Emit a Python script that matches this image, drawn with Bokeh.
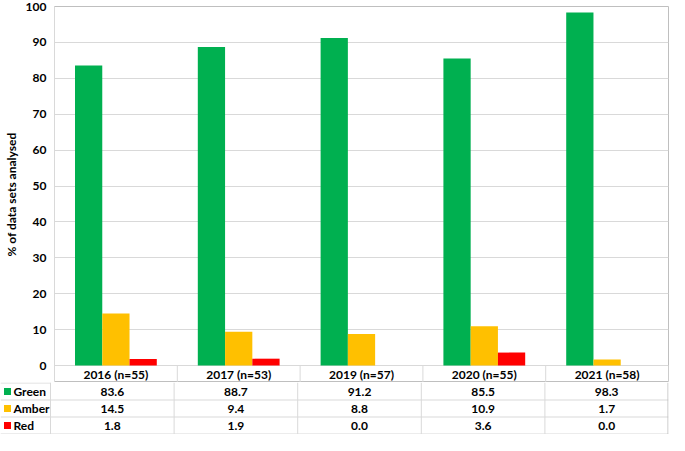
from bokeh.plotting import figure
from bokeh.models import Range1d, FactorRange, FixedTicker, ColumnDataSource
from bokeh.transform import dodge
from bokeh.core.properties import value
from bokeh.embed import file_html
from bokeh.resources import INLINE

# ---- data ----
categories = ["2016 (n=55)", "2017 (n=53)", "2019 (n=57)", "2020 (n=55)", "2021 (n=58)"]
series_names = ["Green", "Amber", "Red"]
green = [83.6, 88.7, 91.2, 85.5, 98.3]
amber = [14.5, 9.4, 8.8, 10.9, 1.7]
red = [1.8, 1.9, 0.0, 3.6, 0.0]
series_colors = ["#00B050", "#FFC000", "#FF0000"]
y_ticks = list(range(0, 101, 10))

# ---- layout constants ----
W = 669
LEFT = 50
RIGHT = 1
TOP = 6
PLOT_H = 359          # pixels for 0..100
ROW_H = 17
FONT = value("Lato")
FS = "12px"
GRID = "#d9d9d9"
BORDER = "#bfbfbf"

ncat = len(categories)
ppu = (W - LEFT - RIGHT) / ncat
x0 = -LEFT / ppu
bar_w = 0.222
hdr = ROW_H * 100.0 / PLOT_H   # header row height in data units

# ---- chart (bars + header row of the data table) ----
src = ColumnDataSource(dict(cat=categories, Green=green, Amber=amber, Red=red,
                            hb=[-hdr] * ncat, ht=[0] * ncat, hm=[-hdr / 2] * ncat))
p = figure(x_range=FactorRange(*categories, range_padding=0), y_range=Range1d(-hdr, 100),
           width=W, height=TOP + PLOT_H + ROW_H, output_backend="svg", toolbar_location=None,
           min_border_left=LEFT, min_border_right=RIGHT, min_border_top=TOP, min_border_bottom=0)
for j, (name, col) in enumerate(zip(series_names, series_colors)):
    p.vbar(x=dodge("cat", (j - 1) * bar_w, range=p.x_range), top=name, width=bar_w,
           source=src, fill_color=col, line_color=None)
p.xaxis.visible = False
p.xgrid.visible = False
p.ygrid.grid_line_color = GRID
p.yaxis.ticker = FixedTicker(ticks=y_ticks)
p.yaxis.axis_line_color = GRID
p.yaxis.major_tick_line_color = None
p.yaxis.minor_tick_line_color = None
p.yaxis.major_tick_out = 0
p.yaxis.major_label_standoff = 8
p.yaxis.major_label_text_font = "Lato"
p.yaxis.major_label_text_font_style = "bold"
p.yaxis.major_label_text_font_size = FS
p.yaxis.major_label_text_color = "#000000"
p.yaxis.axis_label = "% of data sets analysed"
p.yaxis.axis_label_text_font = "Lato"
p.yaxis.axis_label_text_font_style = "bold"
p.yaxis.axis_label_text_font_size = FS
p.yaxis.axis_label_text_color = "#000000"
p.yaxis.axis_label_standoff = 4
p.outline_line_color = BORDER

# header row: separators and category labels
p.segment(x0=dodge("cat", 0.5, range=p.x_range), y0="hb",
          x1=dodge("cat", 0.5, range=p.x_range), y1="ht",
          source=src, line_color=GRID, line_width=1)
p.text(x="cat", y="hm", text="cat", source=src, text_font=FONT,
       text_font_style="bold", text_font_size=FS, text_align="center",
       text_baseline="middle", text_color="#000000")

# ---- data rows of the table (separate root, full-width frame) ----
pad = 0.5 / ROW_H
t = figure(x_range=Range1d(x0, ncat), y_range=Range1d(-pad, 3 + pad),
           width=W, height=3 * ROW_H + 1, output_backend="svg", toolbar_location=None,
           x_axis_type=None, y_axis_type=None,
           min_border_left=0, min_border_right=RIGHT, min_border_top=0, min_border_bottom=0)
t.xgrid.visible = False
t.ygrid.visible = False
t.outline_line_color = None

t.segment(x0=[x0], y0=[3], x1=[0], y1=[3], line_color=GRID, line_width=1)
hy = [2, 1, 0]
t.segment(x0=[x0] * len(hy), y0=hy, x1=[ncat] * len(hy), y1=hy, line_color=GRID, line_width=1)
vx = list(range(ncat))
t.segment(x0=vx, y0=[0] * len(vx), x1=vx, y1=[3 + pad] * len(vx), line_color=GRID, line_width=1)
xr = ncat - 0.5 / ppu
t.segment(x0=[xr], y0=[0], x1=[xr], y1=[3 + pad], line_color=BORDER, line_width=1)

centers = [i + 0.5 for i in range(ncat)]
for j, (name, vals, col) in enumerate(zip(series_names, [green, amber, red], series_colors)):
    yy = 2.5 - j
    t.text(x=centers, y=[yy] * ncat, text=[f"{v:.1f}" for v in vals], text_font=FONT,
           text_font_style="bold", text_font_size=FS, text_align="center",
           text_baseline="middle", text_color="#000000")
    t.scatter(x=[x0 + 7 / ppu], y=[yy], marker="square", size=7, fill_color=col, line_color=None)
    t.text(x=[x0 + 13 / ppu], y=[yy], text=[name], text_font=FONT,
           text_font_style="bold", text_font_size=FS, text_align="left",
           text_baseline="middle", text_color="#000000")

open("out.html", "w").write(file_html([p, t], INLINE))
